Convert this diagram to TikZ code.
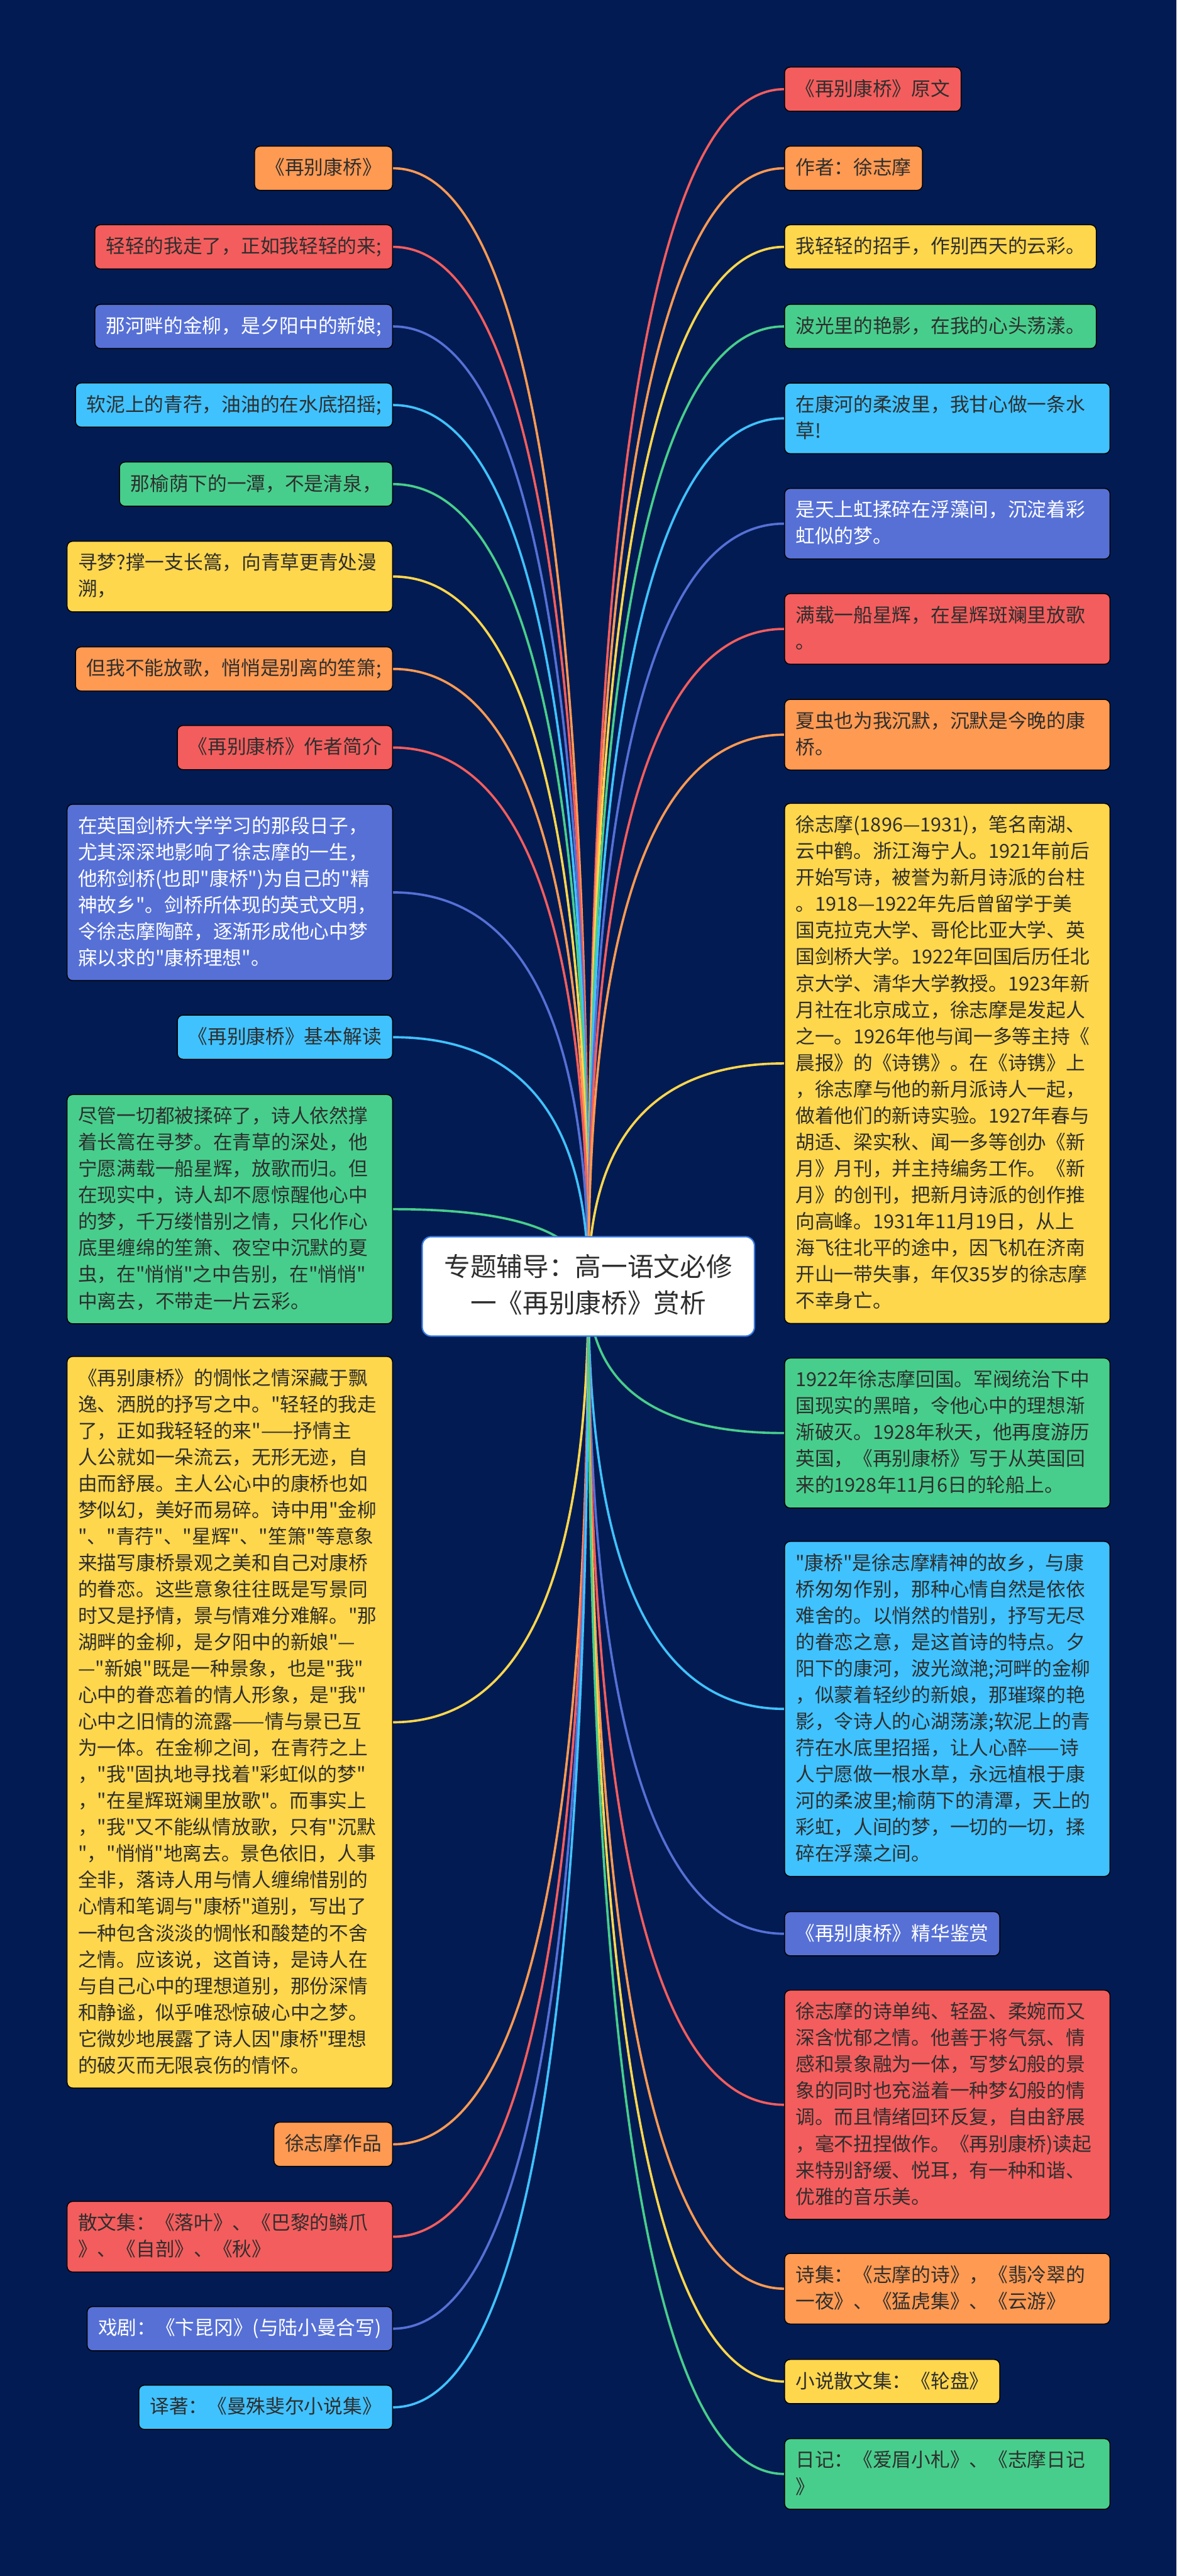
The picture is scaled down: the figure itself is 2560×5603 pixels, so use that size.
\documentclass[tikz,border=0pt]{standalone}
\usepackage{fontspec}
\newfontfamily\cjkf{Noto Sans CJK SC}
\usetikzlibrary{calc}
\pgfdeclarelayer{bg}
\pgfsetlayers{bg,main}
\definecolor{bgc}{HTML}{021B52}
\definecolor{cor}{HTML}{FF9A52}
\definecolor{cre}{HTML}{F45D5D}
\definecolor{cye}{HTML}{FFD74D}
\definecolor{cgr}{HTML}{48CE8C}
\definecolor{ccy}{HTML}{40C2FF}
\definecolor{cbl}{HTML}{5670D6}
\definecolor{txt}{HTML}{2E2E2E}
\definecolor{cbord}{HTML}{3A7BE0}
\tikzset{
  box/.style={draw=black, line width=1pt, rounded corners=6pt, inner xsep=12pt, inner ysep=13pt,
    font=\cjkf\fontsize{21pt}{28.75pt}\selectfont, text=txt,
    execute at begin node={\rule[-4pt]{0pt}{22pt}}, execute at end node={\rule[-4pt]{0pt}{22pt}}},
  lt/.style={box, anchor=east},
  rt/.style={box, anchor=west},
  wide/.style={text width=330pt, align=left},
  wt/.style={text=white},
  link/.style={line width=2.5pt},
  centre/.style={draw=cbord, fill=white, line width=1.5pt, rounded corners=10pt, inner xsep=24pt, inner ysep=19pt,
    align=center, text=txt, font=\cjkf\fontsize{28.5pt}{40pt}\selectfont,
    execute at begin node={\rule[-6pt]{0pt}{30pt}}, execute at end node={\rule[-6pt]{0pt}{30pt}}}
}
\newcommand\conn[2]{\draw[link,#2] (S) .. controls ($(S)!0.6667!(S|-#1)$) and ($(#1)!0.6667!(S|-#1)$) .. (#1);}
\begin{document}
\begin{tikzpicture}[x=0.5pt,y=-0.5pt]
\useasboundingbox (0,0) rectangle (2560,5603);
\begin{pgfonlayer}{bg}
\fill[bgc] (0,0) rectangle (2560,5603);
\end{pgfonlayer}
\node[centre] (C) at (1280,2798) {专题辅导：高一语文必修\\一《再别康桥》赏析};
\coordinate (S) at (1280,2798);
% left
\node[lt, fill=cor] (L1) at (855,366) {《再别康桥》};
\node[lt, fill=cre] (L2) at (855,537) {轻轻的我走了，正如我轻轻的来;};
\node[lt, fill=cbl, wt] (L3) at (855,710) {那河畔的金柳，是夕阳中的新娘;};
\node[lt, fill=ccy] (L4) at (855,881) {软泥上的青荇，油油的在水底招摇;};
\node[lt, fill=cgr] (L5) at (855,1053) {那榆荫下的一潭，不是清泉，};
\node[lt, wide, fill=cye] (L6) at (855,1254) {寻梦?撑一支长篙，向青草更青处漫\\溯，};
\node[lt, fill=cor] (L7) at (855,1455) {但我不能放歌，悄悄是别离的笙箫;};
\node[lt, fill=cre] (L8) at (855,1626) {《再别康桥》作者简介};
\node[lt, wide, fill=cbl, wt] (L9) at (855,1941) {在英国剑桥大学学习的那段日子，\\尤其深深地影响了徐志摩的一生，\\他称剑桥(也即"康桥")为自己的"精\\神故乡"。剑桥所体现的英式文明，\\令徐志摩陶醉，逐渐形成他心中梦\\寐以求的"康桥理想"。};
\node[lt, fill=ccy] (L10) at (855,2256) {《再别康桥》基本解读};
\node[lt, wide, fill=cgr] (L11) at (855,2630) {尽管一切都被揉碎了，诗人依然撑\\着长篙在寻梦。在青草的深处，他\\宁愿满载一船星辉，放歌而归。但\\在现实中，诗人却不愿惊醒他心中\\的梦，千万缕惜别之情，只化作心\\底里缠绵的笙箫、夜空中沉默的夏\\虫，在"悄悄"之中告别，在"悄悄"\\中离去，不带走一片云彩。};
\node[lt, wide, fill=cye] (L12) at (855,3746) {《再别康桥》的惆怅之情深藏于飘\\逸、洒脱的抒写之中。"轻轻的我走\\了，正如我轻轻的来"——抒情主\\人公就如一朵流云，无形无迹，自\\由而舒展。主人公心中的康桥也如\\梦似幻，美好而易碎。诗中用"金柳\\"、"青荇"、"星辉"、"笙箫"等意象\\来描写康桥景观之美和自己对康桥\\的眷恋。这些意象往往既是写景同\\时又是抒情，景与情难分难解。"那\\湖畔的金柳，是夕阳中的新娘"—\\—"新娘"既是一种景象，也是"我"\\心中的眷恋着的情人形象，是"我"\\心中之旧情的流露——情与景已互\\为一体。在金柳之间，在青荇之上\\，"我"固执地寻找着"彩虹似的梦"\\，"在星辉斑斓里放歌"。而事实上\\，"我"又不能纵情放歌，只有"沉默\\"，"悄悄"地离去。景色依旧，人事\\全非，落诗人用与情人缠绵惜别的\\心情和笔调与"康桥"道别，写出了\\一种包含淡淡的惆怅和酸楚的不舍\\之情。应该说，这首诗，是诗人在\\与自己心中的理想道别，那份深情\\和静谧，似乎唯恐惊破心中之梦。\\它微妙地展露了诗人因"康桥"理想\\的破灭而无限哀伤的情怀。};
\node[lt, fill=cor] (L13) at (855,4664) {徐志摩作品};
\node[lt, wide, fill=cre] (L14) at (855,4865) {散文集：《落叶》、《巴黎的鳞爪\\》、《自剖》、《秋》};
\node[lt, fill=cbl, wt] (L15) at (855,5065) {戏剧：《卞昆冈》(与陆小曼合写)};
\node[lt, fill=ccy] (L16) at (855,5236) {译著：《曼殊斐尔小说集》};
% right
\node[rt, fill=cre] (R1) at (1706,194) {《再别康桥》原文};
\node[rt, fill=cor] (R2) at (1706,366) {作者：徐志摩};
\node[rt, fill=cye] (R3) at (1706,537) {我轻轻的招手，作别西天的云彩。};
\node[rt, fill=cgr] (R4) at (1706,710) {波光里的艳影，在我的心头荡漾。};
\node[rt, wide, fill=ccy] (R5) at (1706,910) {在康河的柔波里，我甘心做一条水\\草!};
\node[rt, wide, fill=cbl, wt] (R6) at (1706,1139) {是天上虹揉碎在浮藻间，沉淀着彩\\虹似的梦。};
\node[rt, wide, fill=cre] (R7) at (1706,1368) {满载一船星辉，在星辉斑斓里放歌\\。};
\node[rt, wide, fill=cor] (R8) at (1706,1598) {夏虫也为我沉默，沉默是今晚的康\\桥。};
\node[rt, wide, fill=cye] (R9) at (1706,2313) {徐志摩(1896—1931)，笔名南湖、\\云中鹤。浙江海宁人。1921年前后\\开始写诗，被誉为新月诗派的台柱\\。1918—1922年先后曾留学于美\\国克拉克大学、哥伦比亚大学、英\\国剑桥大学。1922年回国后历任北\\京大学、清华大学教授。1923年新\\月社在北京成立，徐志摩是发起人\\之一。1926年他与闻一多等主持《\\晨报》的《诗镌》。在《诗镌》上\\，徐志摩与他的新月派诗人一起，\\做着他们的新诗实验。1927年春与\\胡适、梁实秋、闻一多等创办《新\\月》月刊，并主持编务工作。《新\\月》的创刊，把新月诗派的创作推\\向高峰。1931年11月19日，从上\\海飞往北平的途中，因飞机在济南\\开山一带失事，年仅35岁的徐志摩\\不幸身亡。};
\node[rt, wide, fill=cgr] (R10) at (1706,3117) {1922年徐志摩回国。军阀统治下中\\国现实的黑暗，令他心中的理想渐\\渐破灭。1928年秋天，他再度游历\\英国，《再别康桥》写于从英国回\\来的1928年11月6日的轮船上。};
\node[rt, wide, fill=ccy] (R11) at (1706,3717) {"康桥"是徐志摩精神的故乡，与康\\桥匆匆作别，那种心情自然是依依\\难舍的。以悄然的惜别，抒写无尽\\的眷恋之意，是这首诗的特点。夕\\阳下的康河，波光潋滟;河畔的金柳\\，似蒙着轻纱的新娘，那璀璨的艳\\影，令诗人的心湖荡漾;软泥上的青\\荇在水底里招摇，让人心醉——诗\\人宁愿做一根水草，永远植根于康\\河的柔波里;榆荫下的清潭，天上的\\彩虹，人间的梦，一切的一切，揉\\碎在浮藻之间。};
\node[rt, fill=cbl, wt] (R12) at (1706,4206) {《再别康桥》精华鉴赏};
\node[rt, wide, fill=cre] (R13) at (1706,4578) {徐志摩的诗单纯、轻盈、柔婉而又\\深含忧郁之情。他善于将气氛、情\\感和景象融为一体，写梦幻般的景\\象的同时也充溢着一种梦幻般的情\\调。而且情绪回环反复，自由舒展\\，毫不扭捏做作。《再别康桥)读起\\来特别舒缓、悦耳，有一种和谐、\\优雅的音乐美。};
\node[rt, wide, fill=cor] (R14) at (1706,4978) {诗集：《志摩的诗》，《翡冷翠的\\一夜》、《猛虎集》、《云游》};
\node[rt, fill=cye] (R15) at (1706,5180) {小说散文集：《轮盘》};
\node[rt, wide, fill=cgr] (R16) at (1706,5381) {日记：《爱眉小札》、《志摩日记\\》};
\begin{pgfonlayer}{bg}
\conn{L1.east}{cor} \conn{L2.east}{cre} \conn{L3.east}{cbl} \conn{L4.east}{ccy}
\conn{L5.east}{cgr} \conn{L6.east}{cye} \conn{L7.east}{cor} \conn{L8.east}{cre}
\conn{L9.east}{cbl} \conn{L10.east}{ccy} \conn{L11.east}{cgr} \conn{L12.east}{cye}
\conn{L13.east}{cor} \conn{L14.east}{cre} \conn{L15.east}{cbl} \conn{L16.east}{ccy}
\conn{R1.west}{cre} \conn{R2.west}{cor} \conn{R3.west}{cye} \conn{R4.west}{cgr}
\conn{R5.west}{ccy} \conn{R6.west}{cbl} \conn{R7.west}{cre} \conn{R8.west}{cor}
\conn{R9.west}{cye} \conn{R10.west}{cgr} \conn{R11.west}{ccy} \conn{R12.west}{cbl}
\conn{R13.west}{cre} \conn{R14.west}{cor} \conn{R15.west}{cye} \conn{R16.west}{cgr}
\end{pgfonlayer}
\end{tikzpicture}
\end{document}
